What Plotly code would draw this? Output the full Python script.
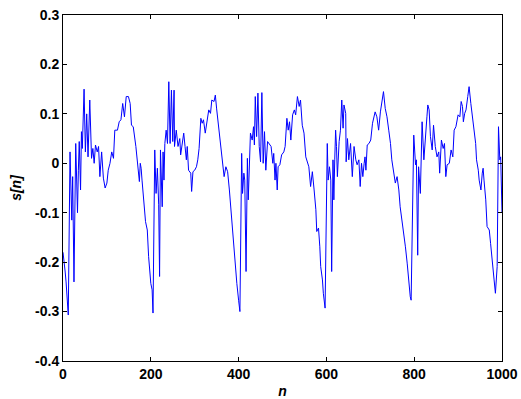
import plotly.graph_objects as go

n_vals = [0, 3, 5, 7, 10, 12, 16, 20, 22, 25, 29, 33, 35, 37, 40, 42, 44, 48, 51, 54, 57, 61, 65, 68, 71, 74, 78, 81, 84, 88,
          92, 96, 100, 103, 107, 111, 115, 118, 124, 128, 132, 136, 140, 144, 149, 153, 156, 160, 166, 170, 172, 174, 176, 178, 180,
          185, 188, 192, 195, 200, 203, 205, 209, 212, 215, 218, 220, 222, 226, 228, 230, 232, 235, 238, 241, 244, 247, 250, 253, 254,
          258, 262, 266, 268, 272, 275, 278, 281, 283, 286, 291, 293, 296, 300, 304, 307, 310, 314, 317, 320, 324, 329, 332, 336, 339,
          344, 347, 350, 353, 356, 360, 364, 367, 371, 375, 379, 383, 387, 390, 393, 396, 400, 403, 407, 409, 412, 414, 417, 420, 422,
          424, 427, 431, 434, 436, 438, 441, 444, 447, 450, 453, 456, 459, 462, 466, 470, 474, 478, 480, 483, 485, 488, 490, 494, 498,
          503, 506, 510, 513, 516, 519, 523, 527, 530, 534, 538, 541, 545, 549, 553, 557, 560, 564, 568, 572, 576, 578, 582, 585, 587,
          591, 593, 597, 602, 604, 607, 610, 612, 615, 617, 619, 621, 623, 625, 629, 632, 635, 638, 640, 644, 645, 648, 651, 655, 659,
          663, 667, 670, 674, 677, 680, 683, 686, 688, 690, 693, 697, 701, 705, 708, 711, 715, 719, 723, 727, 730, 734, 738, 742, 746,
          749, 753, 757, 761, 765, 768, 772, 776, 780, 784, 787, 791, 793, 799, 803, 805, 808, 810, 814, 818, 822, 825, 829, 831, 834,
          837, 841, 844, 848, 852, 856, 858, 862, 866, 869, 872, 875, 880, 884, 888, 891, 895, 898, 900, 904, 907, 910, 912, 915, 918,
          922, 925, 929, 933, 936, 940, 942, 946, 948, 952, 955, 957, 959, 963, 966, 971, 974, 977, 980, 982, 985, 989, 992, 995, 997,
          1000]

s_vals = [-0.18, -0.20, -0.22, -0.24, -0.28, -0.307, 0.023, -0.115, -0.027, -0.24, 0.04, -0.10, -0.014, 0.044, -0.054, 0.064, 0.03, 0.15, 0.023, 0.10, 0.013, 0.128, 0.01, 0.03, 0.0, 0.037, 0.023, 0.034, -0.027, 0.023,
          -0.03, -0.05, -0.04, -0.014, 0.0, 0.023, 0.01, 0.067, 0.067, 0.084, 0.088, 0.121, 0.094, 0.135, 0.135, 0.121, 0.077, 0.074, 0.034, -0.007, -0.017, -0.037, 0.0, -0.01, -0.034,
          -0.088, -0.118, -0.135, -0.189, -0.243, -0.256, -0.303, 0.027, -0.061, -0.01, -0.084, -0.229, 0.027, -0.088, 0.023, -0.034, 0.04, 0.067, 0.04, 0.165, 0.04, 0.148, 0.044, 0.148, 0.034,
          0.067, 0.034, 0.05, 0.017, 0.047, 0.061, 0.034, 0.007, 0.034, -0.014, -0.02, -0.057, -0.017, -0.014, -0.007, 0.007, 0.03, 0.091, 0.081, 0.088, 0.061, 0.094, 0.108, 0.101, 0.128,
          0.125, 0.138, 0.11, 0.085, 0.067, 0.034, 0.007, -0.027, -0.007, -0.017, -0.054, -0.101, -0.128, -0.175, -0.216, -0.243, -0.277, -0.30, 0.02, -0.061, -0.02, -0.034, -0.219, 0.01, -0.074,
          -0.027, 0.061, 0.047, 0.074, 0.037, 0.135, 0.054, 0.142, 0.034, 0.003, 0.143, 0.0, 0.064, -0.014, 0.044, 0.04, 0.034, 0.0, 0.02, -0.034, 0.0, -0.054, -0.007, -0.003, 0.017,
          0.023, 0.034, 0.091, 0.067, 0.084, 0.047, 0.098, 0.108, 0.098, 0.135, 0.115, 0.128, 0.077, 0.061, 0.013, 0.003, -0.007, -0.047, -0.017, -0.054, -0.094, -0.138, -0.131, -0.169, -0.209,
          -0.236, -0.263, -0.293, 0.04, -0.034, -0.007, -0.034, -0.219, 0.007, -0.074, 0.007, 0.067, 0.034, -0.027, 0.044, 0.067, 0.128, 0.071, 0.118, 0.101, 0.003, 0.05, 0.007, 0.04, -0.027,
          0.034, 0.007, -0.003, 0.007, -0.047, 0.0, -0.027, 0.0, 0.013, -0.014, 0.037, 0.04, 0.047, 0.081, 0.091, 0.104, 0.094, 0.067, 0.104, 0.128, 0.145, 0.111, 0.094, 0.067, 0.04,
          0.007, -0.014, -0.04, -0.027, -0.054, -0.088, -0.115, -0.135, -0.169, -0.202, -0.236, -0.27, -0.277, 0.057, -0.003, 0.007, -0.186, -0.007, -0.061, 0.084, 0.007, 0.054, 0.094, 0.118, 0.108,
          0.054, 0.027, 0.077, 0.034, 0.013, 0.023, -0.02, 0.047, 0.03, 0.04, -0.027, -0.003, 0.0, 0.027, 0.013, 0.067, 0.074, 0.088, 0.098, 0.094, 0.125, 0.115, 0.084, 0.101, 0.108,
          0.135, 0.155, 0.121, 0.088, 0.061, 0.04, 0.007, -0.014, -0.034, -0.054, -0.02, -0.01, -0.034, -0.074, -0.128, -0.135, -0.162, -0.196, -0.223, -0.236, -0.263, -0.209, 0.074, 0.007, 0.013,
          -0.10]

x_ticks = [0, 200, 400, 600, 800, 1000]
x_ticktext = ["0", "200", "400", "600", "800", "1000"]
y_ticks = [-0.4, -0.3, -0.2, -0.1, 0, 0.1, 0.2, 0.3]
y_ticktext = ["-0.4", "-0.3", "-0.2", "-0.1", "0", "0.1", "0.2", "0.3"]

fig = go.Figure()
fig.add_trace(go.Scatter(x=n_vals, y=s_vals, mode="lines",
                         line=dict(color="#0000ff", width=1), showlegend=False))

axis_common = dict(showline=True, linecolor="black", linewidth=1, mirror="ticks",
                   ticks="inside", ticklen=4, tickcolor="black", tickwidth=1,
                   showgrid=False, zeroline=False, automargin=False,
                   tickfont=dict(family="Liberation Sans, Arial, sans-serif", size=14,
                                 color="black", weight="bold"))

fig.update_xaxes(range=[0, 1000], tickvals=x_ticks, ticktext=x_ticktext,
                 title=dict(text="<b><i>n</i></b>", standoff=10,
                            font=dict(family="Liberation Sans, Arial, sans-serif", size=14, color="black")),
                 **axis_common)
fig.update_yaxes(range=[-0.4, 0.3], tickvals=y_ticks, ticktext=y_ticktext,
                 title=dict(text="<b><i>s[n]</i></b>", standoff=10,
                            font=dict(family="Liberation Sans, Arial, sans-serif", size=14, color="black")),
                 **axis_common)

fig.update_layout(width=521, height=399,
                  margin=dict(l=63, r=19, t=15, b=38),
                  paper_bgcolor="white", plot_bgcolor="white")

fig.write_html("out.html")
